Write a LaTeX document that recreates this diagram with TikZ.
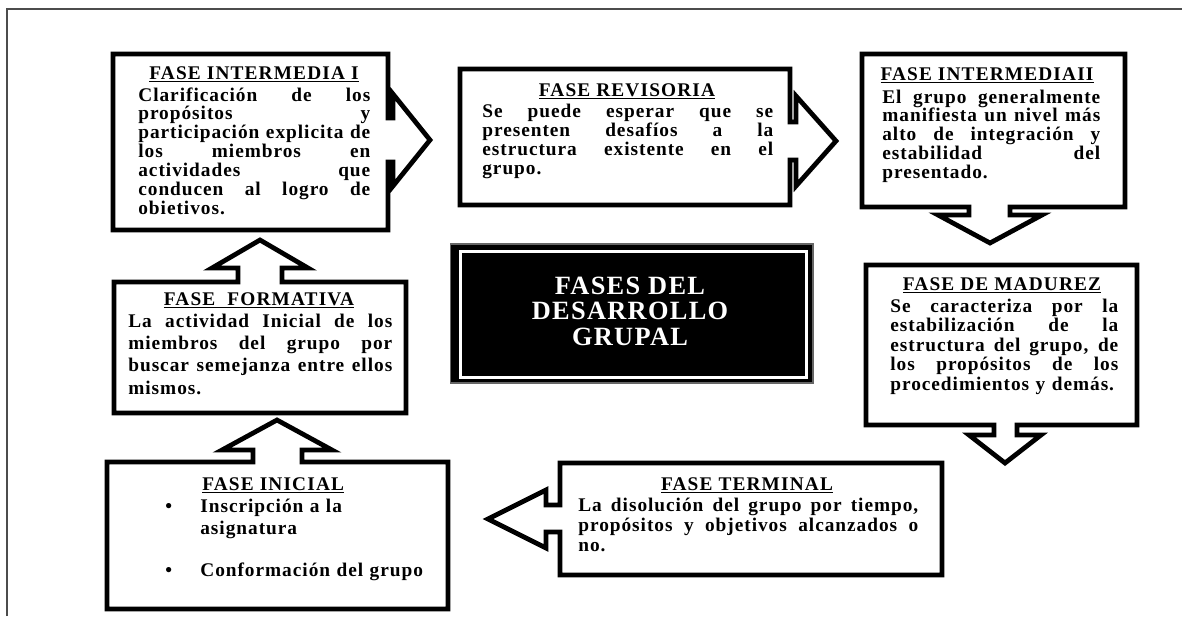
\documentclass[tikz,border=0pt]{standalone}
\usepackage{fontspec}
\newfontfamily\phasefont{Liberation Serif}[LetterSpace=5]
\newfontfamily\headfont{Liberation Serif}[LetterSpace=6]
\newfontfamily\bannerfont{Liberation Serif}[LetterSpace=5]
\usetikzlibrary{calc}
\newcommand\jline[1]{\makebox[\hsize][s]{\spaceskip=0pt\relax #1}}

\begin{document}
\begin{tikzpicture}[x=0.02cm, y=-0.02cm,
    callout/.style={draw=black, line width=2.7pt, fill=white, line join=miter},
    title/.style={anchor=base, inner sep=0pt, font=\headfont\bfseries\fontsize{11pt}{11pt}\selectfont},
    body/.style={anchor=base west, align=left, inner sep=0pt, font=\phasefont\bfseries\fontsize{11pt}{#1}\selectfont},
    body/.default=11pt]
  \useasboundingbox (0,0) rectangle (1182,616);
  \draw[black!70, line width=0.8pt] (7,616) -- (7,9) -- (1182,9);

  % outlines of the callouts
  \draw[callout] (113,54) -- (388,54) -- (388,118) -- (393,118) -- (393,94) -- (430,140)
    -- (393,186) -- (393,162) -- (388,162) -- (388,230) -- (113,230) -- cycle;
  \draw[callout] (460,69) -- (790,69) -- (790,122) -- (796,122) -- (796,96) -- (836,141)
    -- (796,186) -- (796,160) -- (790,160) -- (790,205) -- (460,205) -- cycle;
  \draw[callout] (862,54) -- (1125,54) -- (1125,207) -- (1010,207) -- (1010,215) -- (1042,215)
    -- (990,243) -- (938,215) -- (969,215) -- (969,207) -- (862,207) -- cycle;
  \draw[callout] (866,265) -- (1137,265) -- (1137,425) -- (1017,425) -- (1017,435) -- (1041,435)
    -- (1005,463) -- (969,435) -- (994,435) -- (994,425) -- (866,425) -- cycle;
  \draw[callout] (560,463) -- (942,463) -- (942,575) -- (560,575) -- (560,532) -- (546,532)
    -- (546,548) -- (488,519) -- (546,490) -- (546,505) -- (560,505) -- cycle;
  \draw[callout] (107,462) -- (253,462) -- (253,450) -- (222,450) -- (277,420) -- (332,450)
    -- (302,450) -- (302,462) -- (448,462) -- (448,609) -- (107,609) -- cycle;
  \draw[callout] (114,282) -- (238,282) -- (238,268) -- (212,268) -- (260,240) -- (308,268)
    -- (282,268) -- (282,282) -- (406,282) -- (406,413) -- (114,413) -- cycle;

  % centre
  \node[fill=black, draw=black!60, line width=0.6pt, minimum width=7.26cm, minimum height=2.78cm,
    inner sep=0pt] (centro) at (631.5,313.5) {};
  \draw[white, line width=1.2pt] ($(centro.north west)+(11,8)$) rectangle ($(centro.south east)+(-7,-6)$);
  \node[text=white, align=center, inner sep=0pt,
    font=\bannerfont\bfseries\fontsize{15pt}{14.5pt}\selectfont] (lema) at (630,311)
    {FASES DEL\\DESARROLLO\\GRUPAL};

  % texts
  \node[title] (inter1) at (254,79) {\underline{FASE INTERMEDIA I}};
  \node[body=10.8pt, text width=4.64cm] (inter1txt) at (138,101)
    {\jline{Clarificación de los}\\ \jline{propósitos y}\\ \jline{participación explicita de}\\
     \jline{los miembros en}\\ \jline{actividades que}\\ \jline{conducen al logro de}\\ obietivos.};

  \node[title] (revis) at (627,96) {\underline{FASE REVISORIA}};
  \node[body=10.9pt, text width=5.82cm] (revistxt) at (482,117)
    {\jline{Se puede esperar que se}\\ \jline{presenten desafíos a la}\\
     \jline{estructura existente en el}\\ grupo.};

  \node[title] (inter2) at (987,80) {\underline{FASE INTERMEDIAII}};
  \node[body=10.7pt, text width=4.36cm] (inter2txt) at (882,103)
    {\jline{El grupo generalmente}\\ \jline{manifiesta un nivel más}\\ \jline{alto de integración y}\\
     \jline{estabilidad del}\\ presentado.};

  \node[title] (madur) at (1002,290) {\underline{FASE DE MADUREZ}};
  \node[body=11.1pt, text width=4.56cm] (madurtxt) at (890,312)
    {\jline{Se caracteriza por la}\\ \jline{estabilización de la}\\ \jline{estructura del grupo, de}\\
     \jline{los propósitos de los}\\ procedimientos y demás.};

  \node[title] (termin) at (747,490) {\underline{FASE TERMINAL}};
  \node[body=11.6pt, text width=6.8cm] (termintxt) at (578,511)
    {\jline{La disolución del grupo por tiempo,}\\ \jline{propósitos y objetivos alcanzados o}\\ no.};

  \node[title, anchor=base west] (inicial) at (202,490) {\underline{FASE INICIAL}};
  \node[body=13pt, text width=5.6cm] (inicialtxt) at (165,512)
    {\makebox[0.7cm][l]{•}Inscripción a la\\ \hspace*{0.7cm}asignatura\\[10.8pt]
     \makebox[0.7cm][l]{•}Conformación del grupo};

  \node[title] (format) at (259,305) {\underline{FASE\ \ FORMATIVA}};
  \node[body=12.8pt, text width=5.28cm] (formattxt) at (128,327)
    {\jline{La actividad Inicial de los}\\ \jline{miembros del grupo por}\\
     \jline{buscar semejanza entre ellos}\\ mismos.};
\end{tikzpicture}
\end{document}
